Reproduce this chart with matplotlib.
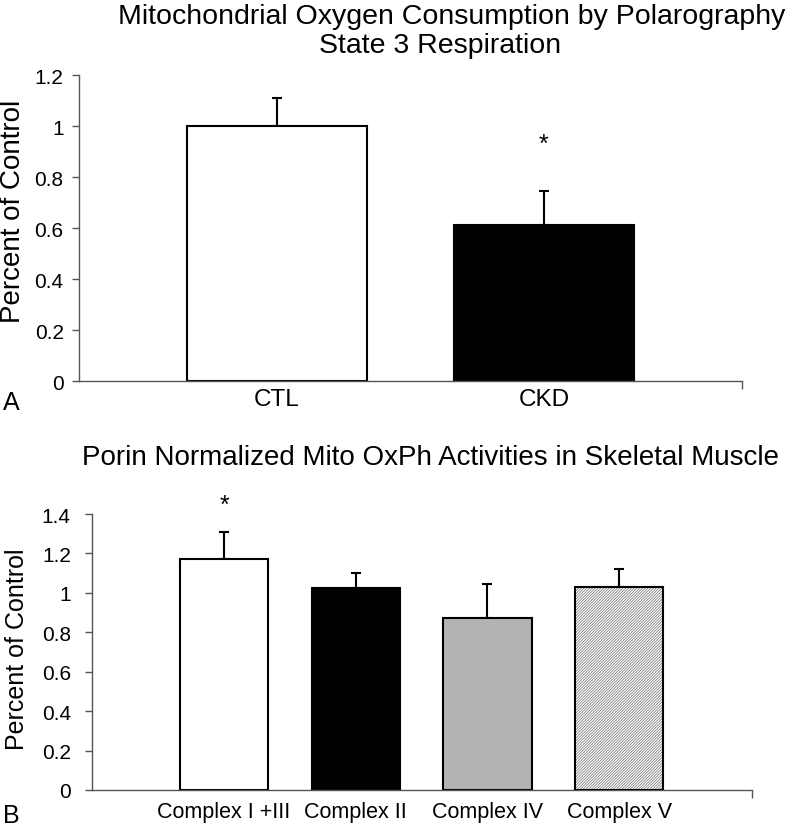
import numpy as np
import matplotlib
matplotlib.use('Agg')
import matplotlib.pyplot as plt

plt.rcParams['font.family'] = ['Liberation Sans', 'DejaVu Sans']
plt.rcParams['hatch.linewidth'] = 0.5

# panel A data
cats_a = ['CTL', 'CKD']
mean_a = [1.0, 0.612]
err_a = [0.11, 0.135]
# panel B data
cats_b = ['Complex I +III', 'Complex II', 'Complex IV', 'Complex V']
mean_b = [1.172, 1.024, 0.873, 1.032]
err_b = [0.136, 0.076, 0.173, 0.09]

axis_col = '#555555'

fig = plt.figure(figsize=(8, 8.28), dpi=100)

def style_axes(ax, ypad, xpad):
    for s in ['top', 'right']:
        ax.spines[s].set_visible(False)
    for s in ['left', 'bottom']:
        ax.spines[s].set_color(axis_col)
        ax.spines[s].set_linewidth(1.0)
    ax.tick_params(axis='y', direction='out', length=5, color=axis_col, width=1.0, pad=ypad)
    ax.tick_params(axis='x', which='major', length=0, pad=xpad)
    ax.tick_params(axis='x', which='minor', direction='out', length=6, color=axis_col, width=1.0)

# ---- Panel A ----
axA = fig.add_axes([0.09875, 0.5386, 0.82875, 0.3691])
xa = np.arange(len(cats_a))
axA.bar(xa, mean_a, width=0.674, color=['white', 'black'], edgecolor='black', linewidth=1.5, zorder=2)
axA.errorbar(xa, mean_a, yerr=[np.zeros(len(err_a)), err_a], fmt='none', ecolor='black',
             elinewidth=1.5, capsize=3.5, capthick=1.5, zorder=1)
axA.set_xlim(-0.742, 1.742)
axA.set_ylim(0, 1.2)
axA.set_yticks([0, 0.2, 0.4, 0.6, 0.8, 1, 1.2])
axA.set_yticklabels(['0', '0.2', '0.4', '0.6', '0.8', '1', '1.2'], fontsize=15)
axA.set_xticks(xa)
axA.set_xticklabels(cats_a, fontsize=17.5)
axA.set_xticks([1.742], minor=True)
style_axes(axA, 6, 5)
fig.text(13 / 800, 1 - 211.5 / 828, 'Percent of Control', rotation=90, fontsize=20,
         ha='center', va='center')
axA.text(1, 0.93, '*', ha='center', va='center', fontsize=18)
fig.text(452 / 800, 1 - 24 / 828, 'Mitochondrial Oxygen Consumption by Polarography',
         ha='center', va='baseline', fontsize=20.5)
fig.text(440 / 800, 1 - 53 / 828, 'State 3 Respiration',
         ha='center', va='baseline', fontsize=20.5)
fig.text(0.004, 1 - 410 / 828, 'A', fontsize=18, ha='left', va='baseline')

# ---- Panel B ----
axB = fig.add_axes([0.1146, 0.0447, 0.825, 0.3333])
xb = np.arange(len(cats_b))
colors_b = ['white', 'black', '#b3b3b3', 'white']
axB.bar(xb[:3], mean_b[:3], width=0.67, color=colors_b[:3], edgecolor='black', linewidth=1.5, zorder=2)
# hatched bar: gray hatch, black outline
axB.bar(xb[3], mean_b[3], width=0.67, color='white', edgecolor='#6e6e6e', hatch='/' * 12, linewidth=0, zorder=2)
axB.bar(xb[3], mean_b[3], width=0.67, fill=False, edgecolor='black', linewidth=1.5, zorder=3)
axB.errorbar(xb, mean_b, yerr=[np.zeros(len(err_b)), err_b], fmt='none', ecolor='black',
             elinewidth=1.5, capsize=3.5, capthick=1.5, zorder=1)
axB.set_xlim(-1.005, 4.007)
axB.set_ylim(0, 1.4)
axB.set_yticks([0, 0.2, 0.4, 0.6, 0.8, 1, 1.2, 1.4])
axB.set_yticklabels(['0', '0.2', '0.4', '0.6', '0.8', '1', '1.2', '1.4'], fontsize=15)
axB.set_xticks(xb)
axB.set_xticklabels(cats_b, fontsize=15.5)
axB.set_xticks([4.007], minor=True)
style_axes(axB, 10, 8)
fig.text(17 / 800, 1 - 649 / 828, 'Percent of Control', rotation=90, fontsize=18,
         ha='center', va='center')
axB.text(0, 1.445, '*', ha='center', va='center', fontsize=18, clip_on=False)
fig.text(431 / 800, 1 - 465 / 828, 'Porin Normalized Mito OxPh Activities in Skeletal Muscle',
         ha='center', va='baseline', fontsize=20)
fig.text(0.004, 1 - 823 / 828, 'B', fontsize=18, ha='left', va='baseline')

plt.savefig('out.png', dpi=100)
